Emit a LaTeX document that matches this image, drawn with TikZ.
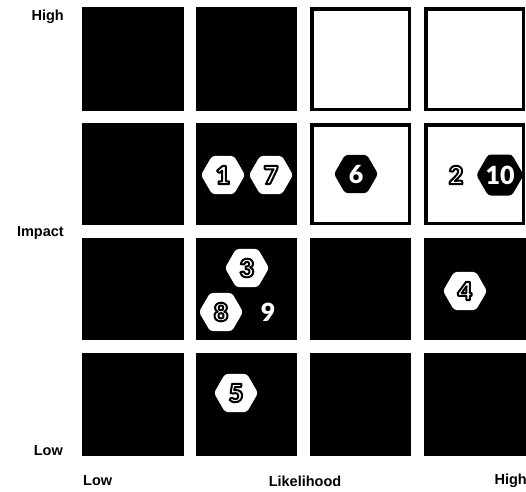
\documentclass[tikz,border=0pt]{standalone}
\usepackage{fontspec}
\setmainfont{Liberation Sans}
\newfontfamily\hexfont{Lato Black}
\usetikzlibrary{shapes.geometric}
\newcommand\outlined[1]{\special{pdf:literal direct 0 0 0 RG 2 Tr 2 w 1 j}#1\special{pdf:literal direct 0 Tr 1 w}}
\begin{document}
\begin{tikzpicture}[x=1pt,y=-1pt,
  darkcell/.style={fill=black},
  lightcell/.style={fill=white, draw=black, line width=3.5pt},
  axislabel/.style={font=\bfseries\fontsize{14.5}{15}\selectfont, inner sep=0pt},
  hexbase/.style={regular polygon, regular polygon sides=6, minimum size=44pt, inner sep=0pt, rounded corners=3pt, font=\hexfont\fontsize{25}{25}\selectfont},
  hexw/.style={hexbase, fill=white, text=white},
  hexb/.style={hexbase, fill=black, text=white}
]
\useasboundingbox (0,0) rectangle (526,491);
% row 1
\fill[darkcell] (82,7) rectangle (184,111);
\fill[darkcell] (196,7) rectangle (297,111);
\draw[lightcell] (311.75,8.75) rectangle (409.25,109.25);
\draw[lightcell] (425.75,8.75) rectangle (523.25,109.25);
% row 2
\fill[darkcell] (82,123) rectangle (184,225);
\fill[darkcell] (196,123) rectangle (297,225);
\draw[lightcell] (311.75,124.75) rectangle (409.25,223.25);
\draw[lightcell] (425.75,124.75) rectangle (523.25,223.25);
% row 3
\fill[darkcell] (82,238) rectangle (184,340);
\fill[darkcell] (196,238) rectangle (297,340);
\fill[darkcell] (310,238) rectangle (411,340);
\fill[darkcell] (424,238) rectangle (526,340);
% row 4
\fill[darkcell] (82,353) rectangle (184,456);
\fill[darkcell] (196,353) rectangle (297,456);
\fill[darkcell] (310,353) rectangle (411,456);
\fill[darkcell] (424,353) rectangle (526,456);
% axis labels
\node[axislabel, anchor=east] (ihigh) at (64,17) {High};
\node[axislabel, anchor=east] (imp) at (64,233) {Impact};
\node[axislabel, anchor=east] (ilow) at (63,451) {Low};
\node[axislabel, anchor=west] (llow) at (83,481) {Low};
\node[axislabel] (lik) at (305,481) {Likelihood};
\node[axislabel, anchor=east] (lhigh) at (527,481) {High};
% risks
\node[hexb] (r6) at (356,174) {6};
\node[hexb] (r10) at (500,175) {10};
\node[hexb] (r9) at (268,312) {9};
\node[hexw] (r1) at (223,175) {\outlined{1}};
\node[hexw] (r7) at (271,175) {\outlined{7}};
\node[hexw] (r2) at (456,175) {\outlined{2}};
\node[hexw] (r3) at (247,268) {\outlined{3}};
\node[hexw] (r8) at (221,312) {\outlined{8}};
\node[hexw] (r4) at (465,291) {\outlined{4}};
\node[hexw] (r5) at (236,393) {\outlined{5}};
\end{tikzpicture}
\end{document}
